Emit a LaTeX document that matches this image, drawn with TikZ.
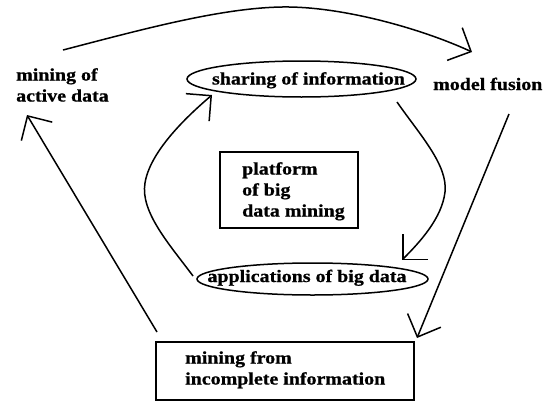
\documentclass[tikz,border=0pt]{standalone}
\usepackage{fontspec}
\setmainfont{Liberation Serif}[BoldFont={Liberation Serif Bold}, BoldFeatures={FakeBold=0.8}, FakeStretch=1.14]
\usetikzlibrary{arrows.meta,shapes.geometric}
\begin{document}
\begin{tikzpicture}[x=1pt,y=-1pt,
  every node/.style={inner sep=0pt, font=\bfseries\fontsize{17.5}{21}\selectfont},
  lbl/.style={align=left},
  frame/.style={draw, line width=1.8pt},
  oval/.style={draw, ellipse, line width=1.5pt},
  link/.style={line width=1.5pt, -{Straight Barb[length=18pt,width=36pt]}},
]
\useasboundingbox (0,0) rectangle (547,402);

% boxes and ovals
\node[frame, minimum width=138pt, minimum height=76pt] (platformbox) at (289,190) {};
\node[frame, minimum width=258pt, minimum height=58pt] (incompletebox) at (285,371) {};
\node[oval, minimum width=229pt, minimum height=36pt] (sharing) at (301.5,79) {};
\node[oval, minimum width=231pt, minimum height=32pt] (apps) at (312.5,279) {};

% labels
\node[anchor=base] (sharingtext) at (308.5,84.5) {sharing of information};
\node[anchor=base] (appstext) at (307,282) {applications of big data};
\node[lbl, anchor=north west] (active) at (16,68) {mining of\\active data};
\node[anchor=base west] (fusion) at (433,90) {model fusion};
\node[lbl, anchor=north west] (platform) at (242,162) {platform\\of big\\data mining};
\node[lbl, anchor=north west] (incomplete) at (185,351) {mining from\\incomplete information};

% connector end points
\coordinate (activeout) at (63,50);
\coordinate (fusionin) at (472,52);
\coordinate (fusionout) at (509,114);
\coordinate (incompletein) at (417,338);
\coordinate (incompleteout) at (157,332);
\coordinate (activein) at (27,115);
\coordinate (sharingout) at (397,102);
\coordinate (appsin) at (402,260);
\coordinate (appsout) at (193,276);
\coordinate (sharingin) at (212,95);

% outer cycle
\draw[link] (activeout) .. controls (140,30) and (220,8) .. (282,7)
  .. controls (340,6) and (420,28) .. (fusionin);
\draw[link] (fusionout) -- (incompletein);
\draw[link] (incompleteout) -- (activein);

% inner cycle
\draw[link] (sharingout) .. controls (420,135) and (448,165) .. (445,192)
  .. controls (442,218) and (420,242) .. (appsin);
\draw[link] (appsout) .. controls (170,245) and (140,212) .. (145,183)
  .. controls (150,152) and (185,118) .. (sharingin);
\end{tikzpicture}
\end{document}
